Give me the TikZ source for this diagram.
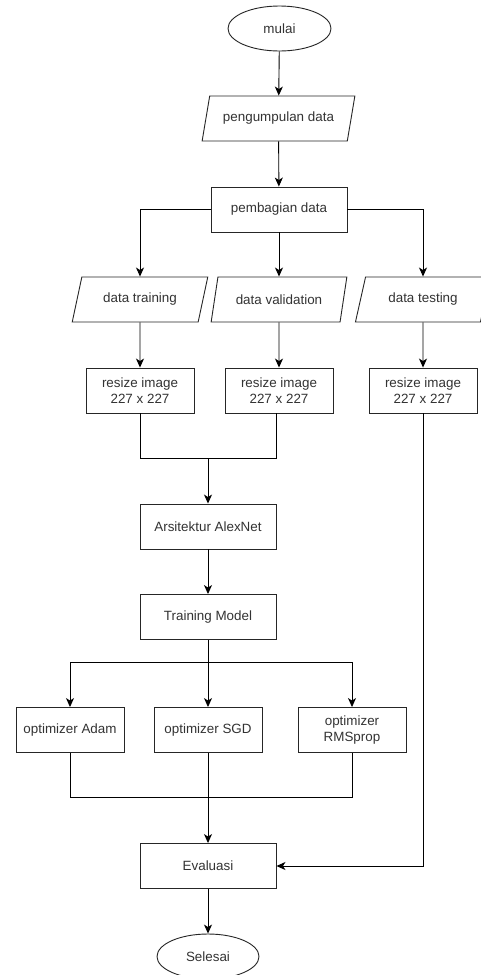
\documentclass[tikz,border=0pt]{standalone}
\usepackage{fontspec}
\setmainfont{Liberation Sans}
\usetikzlibrary{shapes.geometric,arrows.meta}
\begin{document}
\begin{tikzpicture}[x=1pt,y=-1pt,
  every node/.style={font=\fontsize{13.4}{16}\selectfont, text=black!80, align=center, inner sep=0pt},
  procbox/.style={draw=black!85, line width=0.9pt, rectangle, minimum height=45pt},
  wide/.style={procbox, minimum width=136pt},
  narrow/.style={procbox, minimum width=108pt},
  iobox/.style={draw=black!85, line width=0.9pt, trapezium, trapezium left angle=64, trapezium right angle=116, trapezium stretches=true, minimum height=45pt},
  term/.style={draw=black!85, line width=0.9pt, ellipse, minimum width=103pt, minimum height=45pt},
  link/.style={draw=black, line width=0.9pt},
  arr/.style={link, -{Stealth[length=9pt,width=8pt,inset=2.5pt]}}
]
\useasboundingbox (0,0) rectangle (481,975);
\fill[white] (0,0) rectangle (481,975);

\node[term] (start) at (279.5,28.5) {mulai};
\node[iobox, minimum width=153pt] (collect) at (278.5,118.5) {pengumpulan data};
\node[wide] (split) at (279,209.5) {pembagian data};
\node[iobox, minimum width=136pt] (dtrain) at (140,299.5) {data training};
\node[iobox, minimum width=136pt] (dval) at (279,299.5) {data validation};
\node[iobox, minimum width=136pt] (dtest) at (423,299.5) {data testing};
\node[narrow] (r1) at (140,390.5) {resize image\\227 x 227};
\node[narrow] (r2) at (279,390.5) {resize image\\227 x 227};
\node[narrow] (r3) at (423,390.5) {resize image\\227 x 227};
\node[wide] (arch) at (208,526.5) {Arsitektur AlexNet};
\node[wide] (train) at (208,617) {Training Model};
\node[narrow] (adam) at (70,730) {optimizer Adam};
\node[narrow] (sgd) at (208,730) {optimizer SGD};
\node[narrow] (rms) at (352,730) {optimizer\\RMSprop};
\node[wide] (eval) at (208,866) {Evaluasi};
\node[term, minimum width=102pt] (stop) at (208,956.5) {Selesai};

\coordinate (m1) at (208,458);
\coordinate (m2) at (208,662);
\coordinate (m3) at (208,797.5);

\draw[arr] (start) -- (collect);
\draw[arr] (collect) -- (split);
\draw[arr] (split.west) -| (dtrain.north);
\draw[arr] (split) -- (dval);
\draw[arr] (split.east) -| (dtest.north);
\draw[arr] (dtrain) -- (r1);
\draw[arr] (dval) -- (r2);
\draw[arr] (dtest) -- (r3);
\draw[link] (r1.south) |- (m1);
\draw[link] ([xshift=-3pt]r2.south) |- (m1);
\draw[arr] (m1) -- (arch.north);
\draw[arr] (arch) -- (train);
\draw[arr] (train) -- (sgd);
\draw[arr] (m2) -| (adam.north);
\draw[arr] (m2) -| (rms.north);
\draw[link] (adam.south) |- (m3);
\draw[link] (rms.south) |- (m3);
\draw[arr] (sgd) -- (eval);
\draw[arr] (r3.south) |- (eval.east);
\draw[arr] (eval) -- (stop);
\end{tikzpicture}
\end{document}
